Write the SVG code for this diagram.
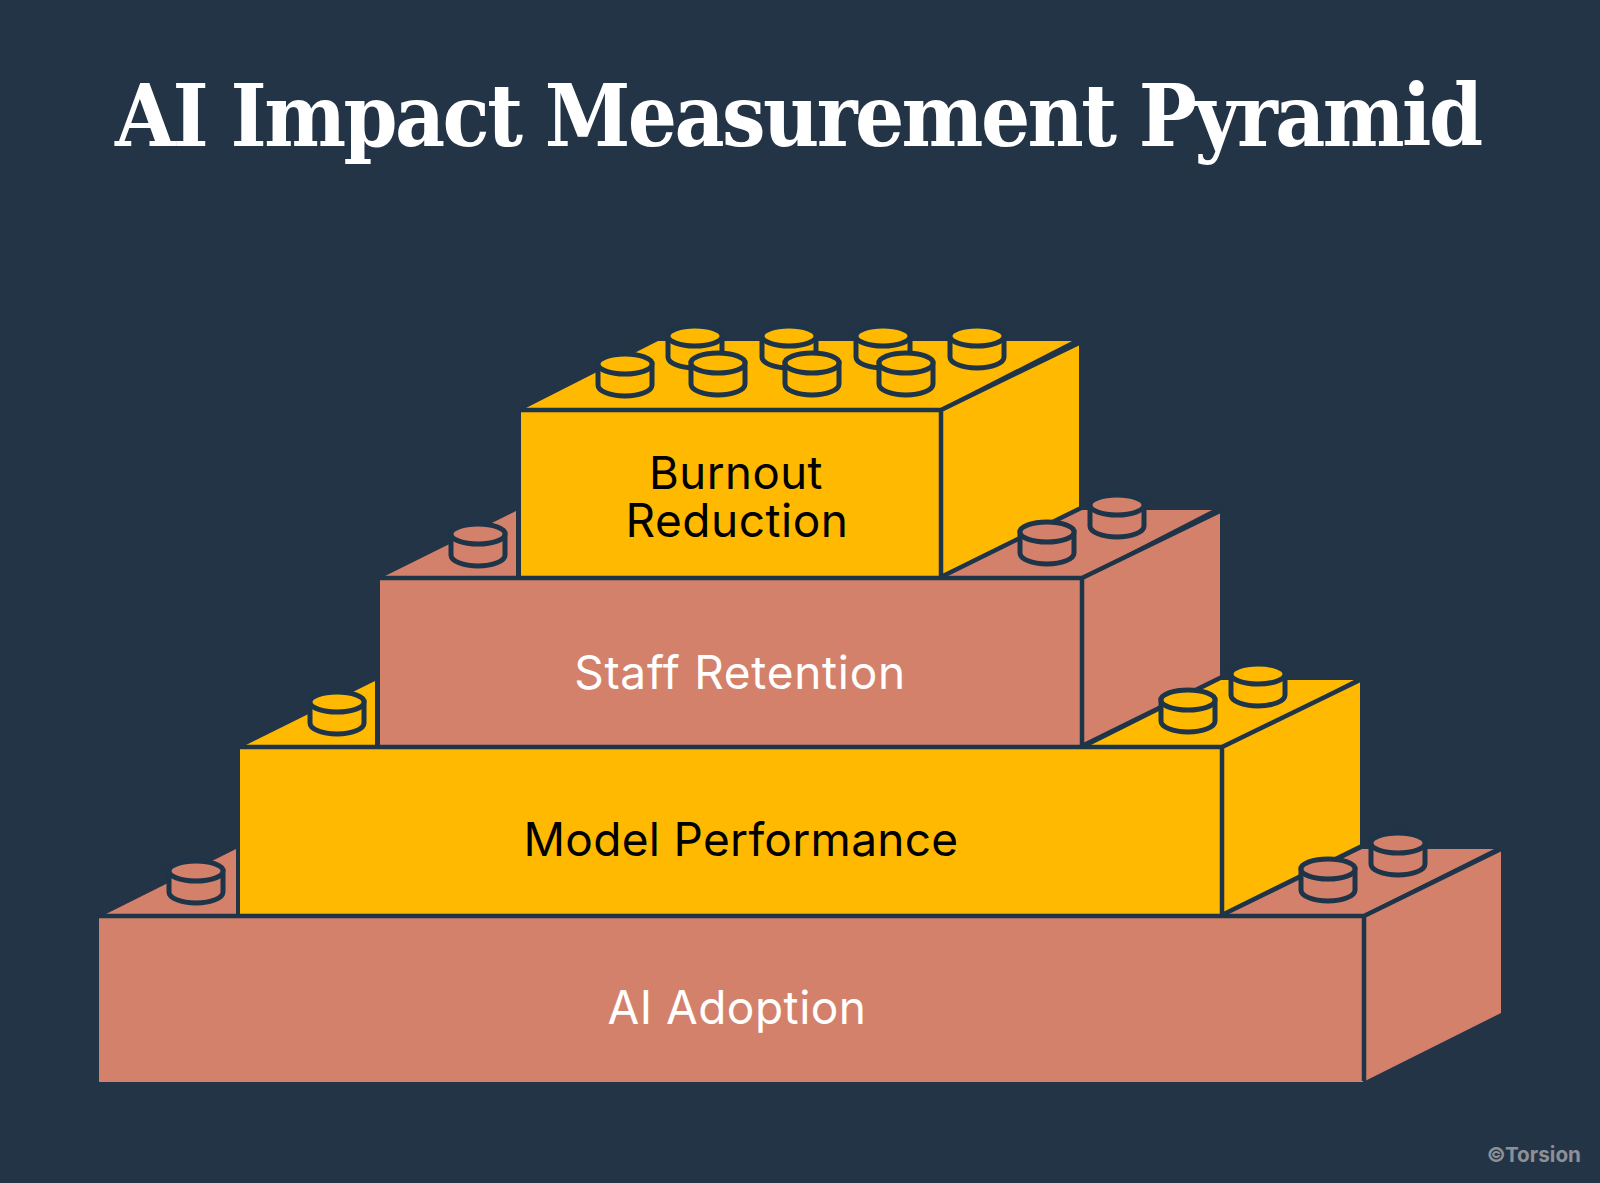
<svg xmlns="http://www.w3.org/2000/svg" xmlns:xlink="http://www.w3.org/1999/xlink" width="1600" height="1183" viewBox="0 0 1600 1183">
<style>
.y{fill:#FFB900}.s{fill:#D4816B}
.e{stroke:#1D3449;stroke-width:4.500;fill:none}
.st{stroke:#1D3449;stroke-width:5}
.lb{font-family:Inter,"Noto Sans",sans-serif;font-size:46px;text-anchor:middle;letter-spacing:.5px}
.w{fill:#fff}.k{fill:#000}
</style>
<defs>
<g id="stud" class="st">
<path d="M-27 0V21A27 11 0 0 0 27 21V0Z"/>
<ellipse rx="27" ry="10"/>
</g>
</defs>
<rect width="1600" height="1183" fill="#243447"/>
<text x="799" y="146" text-anchor="middle" textLength="1368" font-family="'DejaVu Serif',serif" font-stretch="condensed" font-weight="700" font-size="86" fill="#fff">AI Impact Measurement Pyramid</text>

<g id="brick-burnout-reduction" class="y">
<path d="M526 408L658 341H1072L941 408Z"/>
<rect x="521" y="410" width="420" height="166"/>
<path d="M943 411L1079 343V509L943 577Z"/>
<path class="e" d="M521 410H941V577M941 410L1079 343M943 576L1081 508"/>
<use xlink:href="#stud" x="695" y="336"/>
<use xlink:href="#stud" x="789" y="336"/>
<use xlink:href="#stud" x="883" y="336"/>
<use xlink:href="#stud" x="977" y="336"/>
<use xlink:href="#stud" x="625" y="364"/>
<use xlink:href="#stud" x="718" y="363"/>
<use xlink:href="#stud" x="812" y="363"/>
<use xlink:href="#stud" x="906" y="363"/>
<text class="lb k" x="736" y="489" style="font-size:45.500px">Burnout</text>
<text class="lb k" x="737" y="537">Reduction</text>
</g>

<g id="brick-staff-retention" class="s">
<path d="M385 576L516 511V576Z"/>
<path d="M948 576L1082 510H1212L1084 576Z"/>
<rect x="380" y="578" width="702" height="168"/>
<path d="M1084 579L1220 511V678L1084 746Z"/>
<path class="e" d="M380 578H1082V746M1082 578L1220 511M1084 745L1222 677"/>
<use xlink:href="#stud" x="478" y="534"/>
<use xlink:href="#stud" x="1117" y="505"/>
<use xlink:href="#stud" x="1047" y="532"/>
<text class="lb w" x="740" y="689" style="letter-spacing:.7px">Staff Retention</text>
</g>

<g id="brick-model-performance" class="y">
<path d="M244 746L375 681V746Z"/>
<path d="M1089 746L1221 680H1354L1226 746Z"/>
<rect x="240" y="747" width="982" height="167"/>
<path d="M1224 748L1360 680V846L1224 914Z"/>
<path class="e" d="M240 747H1222V914M1222 747L1360 680M1224 914L1362 846"/>
<use xlink:href="#stud" x="337" y="702"/>
<use xlink:href="#stud" x="1258" y="674"/>
<use xlink:href="#stud" x="1188" y="700"/>
<text class="lb k" x="741" y="856" style="letter-spacing:.3px">Model Performance</text>
</g>

<g id="brick-ai-adoption" class="s">
<path d="M106 914L236 849V914Z"/>
<path d="M1229 914L1362 849H1494L1364 914Z"/>
<rect x="99" y="916" width="1264" height="166"/>
<path d="M1365 916L1501 849V1013L1365 1081Z"/>
<path class="e" d="M99 916H1364V1081M1364 916L1501 849"/>
<use xlink:href="#stud" x="196" y="871"/>
<use xlink:href="#stud" x="1398" y="843"/>
<use xlink:href="#stud" x="1328" y="869"/>
<text class="lb w" x="737" y="1024">AI Adoption</text>
</g>

<text x="1581" y="1162" text-anchor="end" font-family="Inter,sans-serif" font-weight="700" font-size="20.700" fill="#8C9097">©Torsion</text>
</svg>
